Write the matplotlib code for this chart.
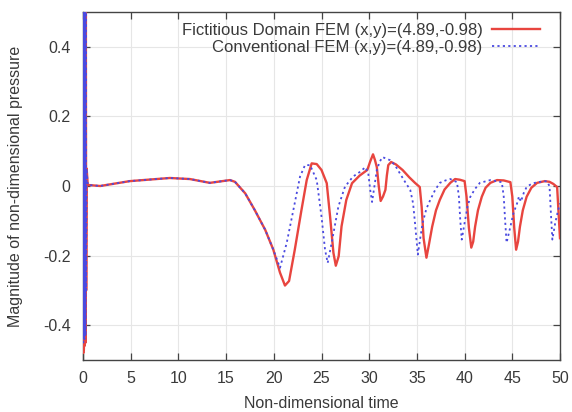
import matplotlib
matplotlib.use("Agg")
import matplotlib.pyplot as plt

# Fictitious Domain FEM (red, solid)
t_fd = [0.0, 0.03, 0.06, 0.09, 0.12, 0.15, 0.18, 0.21, 0.24, 0.27, 0.3, 0.33, 0.38, 0.5, 1.8,
        4.9, 9.1, 11.2, 13.3, 15.4, 15.93, 17.0, 18.0, 19.1, 19.95, 20.65, 21.17, 21.6,
        22.2, 22.9, 23.45, 23.97, 24.5, 25.0, 25.55, 25.9, 26.25, 26.5, 26.8, 27.1, 27.6,
        28.2, 29.0, 29.8, 30.1, 30.4, 30.6, 30.8, 31.0, 31.2, 31.45, 31.7, 31.85, 32.0,
        32.3, 32.8, 33.5, 34.2, 34.8, 35.3, 35.5, 35.7, 36.0, 36.25, 36.6, 37.0, 37.4,
        37.9, 38.5, 39.0, 39.5, 40.0, 40.2, 40.45, 40.7, 40.9, 41.1, 41.4, 41.8, 42.2,
        42.7, 43.4, 44.1, 44.8, 45.0, 45.2, 45.4, 45.6, 45.8, 46.1, 46.5, 47.0, 47.6,
        48.4, 48.9, 49.3, 49.7, 49.85, 50.0]
p_fd = [0.5, -0.48, 0.5, -0.47, 0.5, -0.46, 0.5, -0.45, 0.5, -0.45, 0.5, -0.3, 0.05, 0.003, 0.0,
        0.014, 0.023, 0.02, 0.009, 0.017, 0.012, -0.021, -0.069, -0.126, -0.183, -0.249, -0.286, -0.273,
        -0.183, -0.069, 0.017, 0.065, 0.063, 0.046, 0.008, -0.088, -0.192, -0.229, -0.202, -0.116, -0.04,
        0.008, 0.03, 0.046, 0.07, 0.091, 0.075, 0.054, 0.0, -0.043, -0.03, -0.011, 0.03, 0.06,
        0.069, 0.062, 0.046, 0.025, 0.009, -0.003, -0.06, -0.15, -0.206, -0.17, -0.117, -0.07, -0.04,
        -0.01, 0.009, 0.02, 0.018, 0.014, -0.03, -0.12, -0.177, -0.16, -0.117, -0.07, -0.031, -0.005,
        0.009, 0.017, 0.016, 0.011, -0.03, -0.12, -0.183, -0.16, -0.117, -0.07, -0.031, -0.005, 0.009,
        0.014, 0.012, 0.006, -0.003, -0.077, -0.15]

# Conventional FEM (blue, dotted)
t_cv = [0.0, 0.03, 0.06, 0.09, 0.12, 0.15, 0.18, 0.21, 0.24, 0.27, 0.3, 0.33, 0.38, 0.5, 1.8,
        4.9, 9.1, 11.2, 13.3, 15.4, 15.93, 17.0, 18.0, 19.1, 19.95, 20.65, 21.35, 22.05,
        22.75, 23.27, 23.8, 24.5, 25.0, 25.37, 25.65, 26.06, 26.77, 27.46, 28.3, 29.0, 29.6,
        29.9, 30.1, 30.3, 30.55, 30.8, 31.1, 31.4, 32.2, 32.7, 33.2, 33.8, 34.3, 34.6,
        34.8, 35.1, 35.35, 35.6, 36.0, 36.4, 36.9, 37.4, 38.0, 38.5, 39.2, 39.4, 39.55,
        39.7, 39.85, 40.0, 40.3, 40.6, 41.1, 41.6, 42.7, 43.9, 44.1, 44.25, 44.4, 44.6,
        44.8, 45.1, 45.5, 45.7, 45.9, 46.2, 46.5, 47.0, 47.6, 48.6, 48.9, 49.05, 49.2,
        49.35, 49.5, 49.8, 50.0]
p_cv = [0.5, -0.45, 0.5, -0.44, 0.5, -0.44, 0.5, -0.43, 0.5, -0.43, 0.5, -0.3, 0.05, 0.003, 0.0,
        0.014, 0.023, 0.02, 0.009, 0.017, 0.012, -0.021, -0.069, -0.126, -0.183, -0.235, -0.164, -0.069,
        0.027, 0.06, 0.06, 0.017, -0.088, -0.183, -0.221, -0.164, -0.059, -0.002, 0.027, 0.04, 0.054,
        0.037, -0.01, -0.046, 0.0, 0.046, 0.07, 0.083, 0.074, 0.06, 0.037, 0.01, -0.011, -0.05,
        -0.106, -0.197, -0.15, -0.106, -0.065, -0.04, -0.012, 0.009, 0.016, 0.02, 0.011, -0.03, -0.1,
        -0.154, -0.13, -0.106, -0.06, -0.031, -0.008, 0.009, 0.017, 0.011, -0.03, -0.1, -0.163, -0.14,
        -0.117, -0.08, -0.05, -0.03, -0.045, -0.02, -0.003, 0.006, 0.011, 0.014, 0.0, -0.08, -0.154,
        -0.13, -0.106, -0.07, -0.05]

label_fd = "Fictitious Domain FEM (x,y)=(4.89,-0.98)"
label_cv = "Conventional FEM (x,y)=(4.89,-0.98)"
x_ticks = [0, 5, 10, 15, 20, 25, 30, 35, 40, 45, 50]
y_ticks = [-0.4, -0.2, 0, 0.2, 0.4]
y_ticklabels = ["-0.4", "-0.2", "0", "0.2", "0.4"]

plt.rcParams['font.family'] = ['Liberation Sans', 'DejaVu Sans']
text_color = '#3a3a3a'
fs = 11.5

fig = plt.figure(figsize=(5.72, 4.12), dpi=100)
ax = fig.add_axes([83/572, 1 - 360/412, (560-83)/572, (360-12)/412])

ax.plot(t_fd, p_fd, color='#e8453f', lw=1.7, label=label_fd, zorder=3)
ax.plot(t_cv, p_cv, color='#4a4ae0', lw=1.3, ls=(0, (1.2, 1.8)), label=label_cv, zorder=4)

ax.set_xlim(0, 50)
ax.set_ylim(-0.5, 0.5)
ax.set_xticks(x_ticks)
ax.set_yticks(y_ticks)
ax.set_yticklabels(y_ticklabels)
ax.grid(True, color='#e6e6e6', lw=0.8, ls='-')
ax.set_axisbelow(True)
ax.tick_params(direction='in', length=5, width=0.9, top=True, right=True,
               labelsize=fs, labelcolor=text_color, color='#444444')
ax.tick_params(axis='y', pad=9)
ax.tick_params(axis='x', pad=8)
for s in ax.spines.values():
    s.set_color('#444444')
    s.set_linewidth(1.0)

ax.set_xlabel("Non-dimensional time", fontsize=fs, color=text_color, labelpad=7)
ax.set_ylabel("Magnitude of non-dimensional pressure", fontsize=fs, color=text_color, labelpad=14)

leg = ax.legend(loc='upper right', bbox_to_anchor=(0.958, 0.968), frameon=False,
                markerfirst=False, fontsize=12, handlelength=2.9, handletextpad=0.55,
                labelspacing=0.1, borderaxespad=0.0, borderpad=0.0)
for txt in leg.get_texts():
    txt.set_color(text_color)

fig.savefig("out.png", dpi=100)
